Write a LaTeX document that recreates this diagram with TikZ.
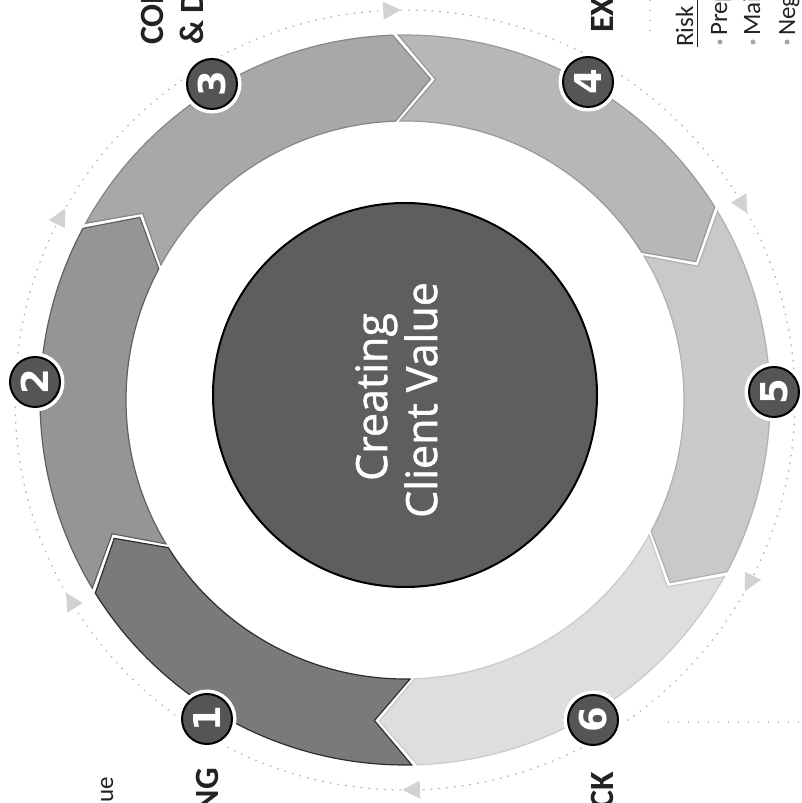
\documentclass[tikz,border=0pt]{standalone}
\usepackage{fontspec}
\setmainfont{Carlito}
\newfontfamily\centrefont[FakeBold=1.3]{Open Sans}
\newfontfamily\digitfont{DejaVu Sans}
\definecolor{segA}{HTML}{7A7A7A}
\definecolor{segB}{HTML}{959595}
\definecolor{segC}{HTML}{A8A8A8}
\definecolor{segD}{HTML}{B7B7B7}
\definecolor{segE}{HTML}{C9C9C9}
\definecolor{segF}{HTML}{DEDEDE}
\definecolor{edgeA}{HTML}{2E2E2E}
\definecolor{edgeB}{HTML}{606060}
\definecolor{edgeC}{HTML}{868686}
\definecolor{edgeD}{HTML}{999999}
\definecolor{edgeE}{HTML}{B0B0B0}
\definecolor{edgeF}{HTML}{CACACA}
\definecolor{coreFill}{HTML}{5E5E5E}
\definecolor{badgeFill}{HTML}{555555}
\definecolor{ink}{HTML}{222222}
\begin{document}
\begin{tikzpicture}[x=1pt,y=1pt,
  badge/.style={circle, fill=badgeFill, draw=black, line width=2,
    minimum size=50, inner sep=0, text=white, rotate=90,
    preaction={draw=white, line width=9},
    font=\digitfont\bfseries\fontsize{37}{37}\selectfont},
  heading/.style={rotate=90, inner sep=0, text=ink,
    font=\bfseries\fontsize{34}{34}\selectfont},
  bodytext/.style={rotate=90, inner sep=0, text=ink,
    font=\fontsize{25}{25}\selectfont},
  bulletdot/.style={circle, fill=gray!70, inner sep=0, minimum size=5},
  coretext/.style={rotate=90, inner sep=0, text=white,
    font=\centrefont\fontsize{43}{43}\selectfont},
  dotring/.style={gray!55, line width=1.4, dash pattern=on 0.8pt off 7pt, line cap=round},
  ringhead/.style={fill=gray!35},
  faintdots/.style={gray!50, line width=1.2, dash pattern=on 1pt off 9pt}
]
\useasboundingbox (0,0) rectangle (801,803);
\clip (0,0) rectangle (801,803);

% dotted guide circle with small arrowheads
\begin{scope}[shift={(405,403)}]
  \draw[dotring] (0,0) circle[radius=390];
  \foreach \t in {152,92,30,-28,-89,211}{
    \pgfmathsetmacro\tip{\t-1.4}
    \pgfmathsetmacro\bas{\t+1.2}
    \fill[ringhead] (\tip:390) -- (\bas:381) -- (\bas:399) -- cycle;
  }

  % six chevron segments of the ring, running clockwise
  \foreach \b/\f/\c/\e in {271.5/211.5/segA/edgeA, 211.5/151.5/segB/edgeB,
      151.5/91.5/segC/edgeC, 91.5/31.5/segD/edgeD,
      31.5/-28.5/segE/edgeE, -28.5/-88.5/segF/edgeF}{
    \pgfmathsetmacro\bo{\b-0.45}
    \pgfmathsetmacro\bn{\b-6.5-0.45}
    \pgfmathsetmacro\fo{\f+0.45}
    \pgfmathsetmacro\ft{\f-6.5+0.45}
    \filldraw[fill=\c, draw=\e, line width=1.2, line join=miter]
      (\fo:365) arc[start angle=\fo, end angle=\bo, radius=365]
      -- (\bn:322) -- (\bo:279)
      arc[start angle=\bo, end angle=\fo, radius=279]
      -- (\ft:322) -- cycle;
  }
\end{scope}

% centre disc
\node[circle, fill=coreFill, draw=black, line width=2, minimum size=384, inner sep=0] (core) at (405,408) {};
\node[coretext, anchor=base] (coreA) at (387,406) {Creating};
\node[coretext, anchor=base] (coreB) at (437,403) {Client Value};

% numbered badges
\node[badge] (b1) at (207,84) {1};
\node[badge] (b2) at (35,421) {2};
\node[badge] (b3) at (212,719) {3};
\node[badge] (b4) at (588,721) {4};
\node[badge] (b5) at (774,411) {5};
\node[badge] (b6) at (593,83) {6};

% stage headings
\node[heading, anchor=base west] (h3a) at (163,758) {CON};
\node[heading, anchor=base west] (h3b) at (203,758) {\& D};
\node[heading, anchor=base west] (h4) at (613,770) {EX};
\node[heading, anchor=base east] (h1) at (218,35) {NG};
\node[heading, anchor=base east] (h6) at (613,31) {CK};
\node[bodytext, anchor=base east] (v1) at (113,26) {lue};

% risk notes
\node[bodytext, anchor=base west] (risk) at (693,756) {Risk I};
\coordinate (ulA) at (697,756);
\coordinate (ulB) at (697,803);
\draw[ink, line width=1] (ulA) -- (ulB);
\node[bulletdot] (d1) at (720,761) {};
\node[bulletdot] (d2) at (753,761) {};
\node[bulletdot] (d3) at (787,761) {};
\node[bodytext, anchor=base west] (r1) at (727,767) {Prep};
\node[bodytext, anchor=base west] (r2) at (760,767) {Mai};
\node[bodytext, anchor=base west] (r3) at (795,767) {Neg};

% faint leader dots
\coordinate (la) at (650,803);
\coordinate (lb) at (650,768);
\coordinate (lc) at (668,81);
\coordinate (ld) at (801,81);
\draw[faintdots] (la) -- (lb);
\draw[faintdots] (lc) -- (ld);
\end{tikzpicture}
\end{document}
